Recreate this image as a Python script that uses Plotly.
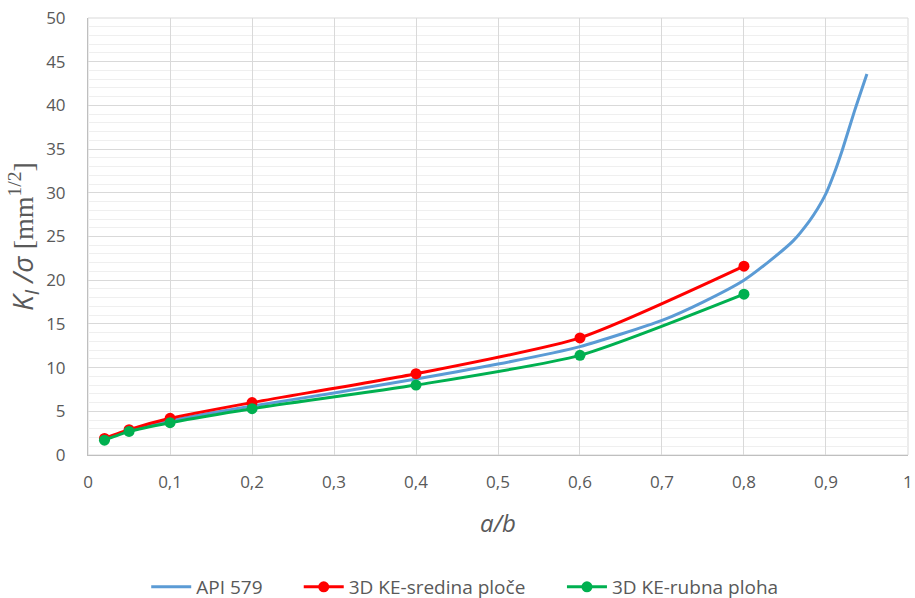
import plotly.graph_objects as go

# API 579 curve
api_x = [0.02, 0.05, 0.1, 0.15, 0.2, 0.3, 0.4, 0.5, 0.6, 0.7, 0.75, 0.8, 0.83, 0.86, 0.88, 0.89, 0.9, 0.91, 0.92, 0.935, 0.95]
api_y = [1.8, 2.8, 3.9, 4.8, 5.6, 7.1, 8.7, 10.4, 12.4, 15.4, 17.5, 20.0, 22.1, 24.5, 26.8, 28.2, 29.9, 32.2, 34.9, 39.4, 43.6]

# 3D KE - sredina ploce
mid_x = [0.02, 0.05, 0.1, 0.2, 0.4, 0.6, 0.8]
mid_y = [1.9, 2.9, 4.2, 6.0, 9.3, 13.4, 21.6]

# 3D KE - rubna ploha
edge_x = [0.02, 0.05, 0.1, 0.2, 0.4, 0.6, 0.8]
edge_y = [1.7, 2.7, 3.7, 5.3, 8.0, 11.4, 18.4]

x_ticks = [0, 0.1, 0.2, 0.3, 0.4, 0.5, 0.6, 0.7, 0.8, 0.9, 1]
y_ticks = [0, 5, 10, 15, 20, 25, 30, 35, 40, 45, 50]

fig = go.Figure()
fig.add_trace(go.Scatter(x=api_x, y=api_y, mode="lines", name="API 579", legend="legend",
                         line=dict(color="#5B9BD5", width=3, shape="spline", smoothing=0.6)))
fig.add_trace(go.Scatter(x=mid_x, y=mid_y, mode="lines+markers", name="3D KE-sredina ploče", legend="legend2",
                         line=dict(color="#FF0000", width=3, shape="spline", smoothing=0.6),
                         marker=dict(color="#FF0000", size=11)))
fig.add_trace(go.Scatter(x=edge_x, y=edge_y, mode="lines+markers", name="3D KE-rubna ploha", legend="legend3",
                         line=dict(color="#00B050", width=3, shape="spline", smoothing=0.6),
                         marker=dict(color="#00B050", size=11)))

leg_common = dict(orientation="h", xanchor="left", y=-0.302, yanchor="middle",
                  font=dict(size=19, color="#595959"), itemwidth=40, bgcolor="rgba(0,0,0,0)")

fig.update_layout(
    width=915, height=598,
    margin=dict(l=88, r=7, t=18, b=143, autoexpand=False),
    paper_bgcolor="white", plot_bgcolor="white",
    separators=", ",
    font=dict(family="Open Sans", size=16, color="#595959"),
    showlegend=True,
    legend=dict(x=0.071, **leg_common),
    legend2=dict(x=0.257, **leg_common),
    legend3=dict(x=0.578, **leg_common),
    xaxis=dict(range=[-0.0001, 1.0001], tickvals=x_ticks, showgrid=True, gridcolor="#D9D9D9", gridwidth=1,
               showline=True, linecolor="#BFBFBF", linewidth=1, mirror=False, zeroline=False,
               ticks="outside", ticklen=12, tickcolor="rgba(0,0,0,0)",
               tickfont=dict(size=17, color="#595959"), automargin=False,
               title=dict(text="<i>a/b</i>", font=dict(size=24, color="#595959"), standoff=22)),
    yaxis=dict(range=[0, 50], tickvals=y_ticks, showgrid=True, gridcolor="#D9D9D9", gridwidth=1,
               showline=True, linecolor="#BFBFBF", linewidth=1, zeroline=False,
               ticks="outside", ticklen=18, tickcolor="rgba(0,0,0,0)",
               tickfont=dict(size=17, color="#595959"), automargin=False,
               minor=dict(dtick=1, showgrid=True, gridcolor="#EFEFEF", gridwidth=1),
               title=dict(text="<i>K</i><sub><i>I</i></sub><i> /σ</i> <span style=\"font-family:'Liberation Serif'\">[mm<sup>1/2</sup>]</span>",
                          font=dict(size=28, color="#595959"), standoff=4)),
)
fig.add_shape(type="rect", xref="paper", yref="paper", x0=0, y0=0, x1=1, y1=1,
              line=dict(color="#D9D9D9", width=1), layer="below")

fig.write_html("out.html", config={"displayModeBar": False},
               post_script="document.body.style.margin='0';document.body.style.overflow='hidden';")
